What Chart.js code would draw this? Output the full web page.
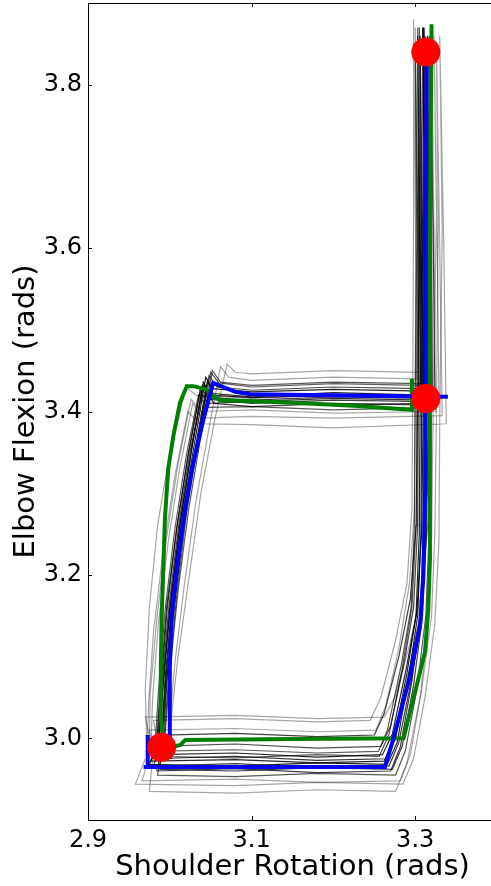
<!DOCTYPE html>
<html lang="en">
<head>
  <meta charset="UTF-8" />
  <title>Elbow Flexion vs Shoulder Rotation</title>
  <script src="https://cdn.jsdelivr.net/npm/chart.js"></script>
  <style>
    html, body {
      margin: 0;
      padding: 0;
      background: #fff;
      overflow: hidden;
    }
    #wrap {
      width: 500px;
      height: 886px;
    }
  </style>
</head>
<body>
  <div id="wrap"><canvas id="grafico" width="500" height="886"></canvas></div>

  <script>
    // axis limits and ticks
    const xLimits = [2.9, 3.4];
    const yLimits = [2.9, 3.9];
    const xTicks = [2.9, 3.1, 3.3];
    const xTickLabels = ['2.9', '3.1', '3.3'];
    const yTicks = [3.0, 3.2, 3.4, 3.6, 3.8];
    const yTickLabels = ['3.0', '3.2', '3.4', '3.6', '3.8'];

    // key postures (red dots)
    const keyX = [2.990, 3.313, 3.313];
    const keyY = [2.989, 3.416, 3.840];

    // mean trajectory (blue), null = break
    const blueX = [3.340, 3.098, 3.080, 3.053, 3.041, 3.027, 3.017, 3.0085, 3.002, 3.000, 3.000, 3.000, null,
                   2.973, 2.973, null,
                   2.968, 3.263, 3.2735, 3.294, 3.306, 3.310, 3.312, 3.312, 3.313, 3.314];
    const blueY = [3.418, 3.421, 3.424, 3.435, 3.390, 3.329, 3.268, 3.207, 3.146, 3.085, 3.004, 2.975, null,
                   3.004, 2.965, null,
                   2.965, 2.965, 3.000, 3.077, 3.138, 3.199, 3.300, 3.420, 3.600, 3.840];

    // model trajectory (green)
    const greenX = [3.296, 3.296, 3.225, 3.143, 3.061, 3.049, 3.045, 3.029, 3.0207, 3.0125, 3.0043, 2.998,
                    2.994, 2.992, 2.990, 2.989, 2.989, 2.992, 3.005, 3.013, 3.019, 3.150, 3.2857, 3.298,
                    3.312, 3.316, 3.318, 3.318, 3.318, 3.320];
    const greenY = [3.440, 3.402, 3.407, 3.411, 3.414, 3.421, 3.427, 3.431, 3.431, 3.411, 3.370, 3.329,
                    3.268, 3.207, 3.146, 3.085, 3.024, 3.000, 2.990, 2.992, 2.998, 2.999, 3.000, 3.049,
                    3.106, 3.158, 3.220, 3.420, 3.600, 3.874];

    // individual trials (grey), [x, y] pairs
    const trials = [
      [[2.986,2.99],[2.976,2.972],[3.08,2.974],[3.18,2.970],[3.262,2.972],[3.274,3.0],[3.290,3.08],[3.301,3.15],[3.305,3.25],[3.306,3.40],[3.308,3.60],[3.306,3.86],[3.309,3.62],[3.310,3.425],[3.20,3.427],[3.10,3.424],[3.052,3.428],[3.044,3.442],[3.030,3.36],[3.015,3.27],[3.003,3.17],[2.994,3.07],[2.990,3.0]],
      [[2.990,2.985],[2.984,2.960],[3.08,2.963],[3.18,2.958],[3.270,2.960],[3.282,2.99],[3.296,3.07],[3.306,3.15],[3.310,3.25],[3.311,3.41],[3.313,3.63],[3.311,3.87],[3.315,3.61],[3.317,3.412],[3.20,3.414],[3.10,3.410],[3.048,3.415],[3.038,3.430],[3.023,3.35],[3.009,3.26],[2.997,3.16],[2.989,3.06],[2.985,3.0]],
      [[2.982,2.99],[2.972,2.984],[3.08,2.986],[3.18,2.982],[3.255,2.984],[3.266,3.01],[3.283,3.09],[3.295,3.16],[3.299,3.26],[3.300,3.42],[3.302,3.61],[3.300,3.85],[3.303,3.63],[3.305,3.432],[3.20,3.434],[3.10,3.430],[3.060,3.435],[3.050,3.448],[3.036,3.37],[3.021,3.28],[3.009,3.18],[2.999,3.08],[2.993,3.0]],
      [[2.976,2.98],[2.966,2.948],[3.08,2.950],[3.18,2.946],[3.282,2.948],[3.294,2.98],[3.308,3.06],[3.320,3.15],[3.324,3.25],[3.326,3.40],[3.328,3.63],[3.326,3.85],[3.330,3.60],[3.333,3.395],[3.20,3.392],[3.10,3.394],[3.040,3.392],[3.028,3.41],[3.012,3.33],[2.998,3.24],[2.986,3.14],[2.979,3.05],[2.977,2.99]],
      [[2.990,2.99],[2.992,3.004],[3.08,3.006],[3.18,3.002],[3.250,3.004],[3.262,3.03],[3.280,3.10],[3.294,3.17],[3.301,3.26],[3.303,3.41],[3.305,3.60],[3.303,3.86],[3.306,3.61],[3.308,3.408],[3.20,3.410],[3.10,3.406],[3.054,3.410],[3.045,3.424],[3.031,3.35],[3.017,3.26],[3.005,3.16],[2.996,3.07],[2.991,3.0]],
      [[2.985,2.995],[2.980,3.022],[3.08,3.024],[3.18,3.020],[3.245,3.022],[3.258,3.05],[3.276,3.12],[3.290,3.19],[3.296,3.28],[3.297,3.43],[3.298,3.64],[3.298,3.88],[3.300,3.65],[3.302,3.440],[3.20,3.442],[3.10,3.438],[3.072,3.442],[3.062,3.455],[3.048,3.38],[3.032,3.29],[3.018,3.19],[3.006,3.09],[2.998,3.0]],
      [[2.982,2.985],[2.975,2.968],[3.08,2.966],[3.18,2.970],[3.266,2.968],[3.278,2.995],[3.292,3.075],[3.303,3.15],[3.307,3.25],[3.308,3.415],[3.310,3.62],[3.309,3.87],[3.313,3.64],[3.315,3.418],[3.20,3.420],[3.10,3.417],[3.050,3.420],[3.041,3.436],[3.027,3.355],[3.013,3.265],[3.001,3.165],[2.992,3.065],[2.987,2.995]],
      [[2.990,2.98],[2.985,2.955],[3.08,2.953],[3.18,2.957],[3.276,2.955],[3.288,2.985],[3.302,3.06],[3.313,3.15],[3.317,3.25],[3.318,3.405],[3.320,3.61],[3.318,3.85],[3.322,3.62],[3.324,3.405],[3.20,3.402],[3.10,3.406],[3.046,3.405],[3.035,3.420],[3.020,3.345],[3.006,3.255],[2.994,3.155],[2.986,3.055],[2.982,2.99]],
      [[2.970,2.975],[2.958,2.944],[3.08,2.942],[3.18,2.946],[3.285,2.944],[3.298,2.975],[3.312,3.05],[3.324,3.14],[3.329,3.24],[3.330,3.39],[3.333,3.62],[3.330,3.86],[3.335,3.60],[3.338,3.385],[3.20,3.380],[3.10,3.384],[3.036,3.385],[3.022,3.40],[3.006,3.32],[2.992,3.23],[2.980,3.13],[2.974,3.04],[2.972,2.985]],
      [[2.985,2.99],[2.980,2.990],[3.08,2.993],[3.18,2.988],[3.258,2.990],[3.270,3.015],[3.286,3.09],[3.298,3.16],[3.303,3.26],[3.304,3.425],[3.306,3.60],[3.305,3.87],[3.307,3.62],[3.309,3.428],[3.20,3.430],[3.10,3.426],[3.058,3.430],[3.048,3.444],[3.034,3.365],[3.019,3.275],[3.007,3.175],[2.997,3.075],[2.992,3.0]],
      [[2.985,2.985],[2.978,2.975],[3.08,2.978],[3.18,2.973],[3.264,2.975],[3.276,3.0],[3.292,3.08],[3.306,3.15],[3.312,3.25],[3.314,3.40],[3.316,3.63],[3.315,3.86],[3.317,3.62],[3.320,3.414],[3.20,3.416],[3.10,3.412],[3.049,3.418],[3.040,3.432],[3.026,3.35],[3.012,3.26],[3.000,3.16],[2.991,3.06],[2.986,2.995]],
      [[2.980,2.99],[2.975,3.010],[3.08,3.012],[3.18,3.008],[3.252,3.010],[3.264,3.04],[3.280,3.11],[3.293,3.19],[3.299,3.28],[3.300,3.43],[3.301,3.62],[3.300,3.87],[3.303,3.63],[3.304,3.448],[3.20,3.450],[3.10,3.446],[3.080,3.448],[3.070,3.458],[3.055,3.39],[3.038,3.30],[3.024,3.20],[3.010,3.10],[2.999,3.0]],
      [[2.990,2.99],[2.988,2.962],[3.08,2.960],[3.18,2.964],[3.272,2.962],[3.284,2.99],[3.298,3.065],[3.309,3.15],[3.312,3.25],[3.313,3.41],[3.314,3.61],[3.312,3.86],[3.316,3.60],[3.318,3.410],[3.20,3.408],[3.10,3.412],[3.047,3.410],[3.037,3.425],[3.022,3.345],[3.008,3.255],[2.996,3.16],[2.988,3.06],[2.984,2.995]],
      [[2.980,2.985],[2.975,2.935],[3.08,2.933],[3.18,2.937],[3.276,2.935],[3.290,2.97],[3.306,3.05],[3.316,3.14],[3.320,3.24],[3.322,3.41],[3.326,3.64],[3.323,3.86],[3.327,3.60],[3.329,3.418],[3.20,3.420],[3.10,3.416],[3.032,3.420],[3.020,3.43],[3.000,3.35],[2.985,3.26],[2.975,3.16],[2.970,3.06],[2.972,2.99]],
      [[2.988,2.99],[2.982,2.980],[3.08,2.982],[3.18,2.977],[3.260,2.980],[3.272,3.005],[3.289,3.085],[3.302,3.155],[3.308,3.255],[3.310,3.42],[3.311,3.62],[3.310,3.87],[3.312,3.61],[3.314,3.420],[3.20,3.423],[3.10,3.418],[3.053,3.422],[3.046,3.438],[3.032,3.36],[3.017,3.27],[3.004,3.17],[2.995,3.07],[2.990,3.0]],
      [[2.986,2.985],[2.980,2.966],[3.08,2.969],[3.18,2.964],[3.268,2.966],[3.280,2.995],[3.295,3.07],[3.308,3.15],[3.314,3.25],[3.316,3.41],[3.318,3.62],[3.317,3.86],[3.319,3.63],[3.321,3.416],[3.20,3.418],[3.10,3.414],[3.050,3.416],[3.042,3.433],[3.025,3.352],[3.011,3.262],[2.999,3.162],[2.990,3.062],[2.986,2.995]],
      [[2.978,2.99],[2.970,3.026],[3.08,3.028],[3.18,3.024],[3.262,3.026],[3.275,3.05],[3.292,3.11],[3.308,3.18],[3.316,3.27],[3.320,3.40],[3.322,3.61],[3.320,3.87],[3.323,3.62],[3.325,3.400],[3.20,3.398],[3.10,3.402],[3.038,3.400],[3.026,3.415],[3.010,3.335],[2.996,3.245],[2.984,3.145],[2.976,3.055],[2.975,2.99]],
      [[2.984,2.99],[2.978,2.978],[3.08,2.976],[3.18,2.980],[3.256,2.978],[3.268,3.005],[3.284,3.085],[3.296,3.16],[3.301,3.26],[3.302,3.43],[3.304,3.62],[3.303,3.87],[3.305,3.63],[3.307,3.434],[3.20,3.436],[3.10,3.432],[3.062,3.436],[3.052,3.450],[3.038,3.37],[3.023,3.28],[3.010,3.18],[3.000,3.08],[2.994,3.0]]
    ];
    const trialAlpha = [0.85, 0.75, 0.65, 0.35, 0.75, 0.35, 0.85, 0.65, 0.35, 0.7, 0.8, 0.35, 0.75, 0.35, 0.85, 0.75, 0.35, 0.65];

    const toPoints = (xs, ys) => xs.map((x, i) => (x === null ? { x: null, y: null } : { x: x, y: ys[i] }));

    const datasets = [];
    datasets.push({
      data: toPoints(keyX, keyY),
      showLine: false,
      pointRadius: 14.5,
      pointBackgroundColor: '#ff0000',
      pointBorderWidth: 0,
      order: 0
    });
    datasets.push({
      data: toPoints(blueX, blueY),
      showLine: true,
      spanGaps: false,
      borderColor: '#0000ff',
      borderWidth: 4,
      pointRadius: 0,
      order: 1
    });
    datasets.push({
      data: toPoints(greenX, greenY),
      showLine: true,
      borderColor: '#008000',
      borderWidth: 4,
      pointRadius: 0,
      order: 2
    });
    trials.forEach((t, i) => {
      datasets.push({
        data: t.map(p => ({ x: p[0], y: p[1] })),
        showLine: true,
        borderColor: 'rgba(0,0,0,' + trialAlpha[i] + ')',
        borderWidth: 1.2,
        pointRadius: 0,
        order: 3
      });
    });

    // matplotlib style frame with inward ticks
    const frame = {
      id: 'frame',
      afterDraw(chart) {
        const { ctx, chartArea: a, scales } = chart;
        ctx.save();
        ctx.strokeStyle = '#000';
        ctx.lineWidth = 1;
        ctx.strokeRect(a.left + 0.5, a.top + 0.5, a.right - a.left, a.bottom - a.top);
        ctx.beginPath();
        xTicks.forEach(v => {
          const px = Math.round(scales.x.getPixelForValue(v)) + 0.5;
          ctx.moveTo(px, a.bottom); ctx.lineTo(px, a.bottom - 4);
          ctx.moveTo(px, a.top); ctx.lineTo(px, a.top + 4);
        });
        yTicks.forEach(v => {
          const py = Math.round(scales.y.getPixelForValue(v)) + 0.5;
          ctx.moveTo(a.left, py); ctx.lineTo(a.left + 4, py);
          ctx.moveTo(a.right, py); ctx.lineTo(a.right - 4, py);
        });
        ctx.stroke();
        ctx.restore();
      }
    };

    const noPad = s => { s.paddingTop = 0; s.paddingBottom = 0; s.paddingLeft = 0; s.paddingRight = 0; };

    new Chart(document.getElementById('grafico').getContext('2d'), {
      type: 'scatter',
      data: { datasets: datasets },
      plugins: [frame],
      options: {
        responsive: false,
        animation: false,
        layout: { autoPadding: false, padding: { top: 3, right: 3, left: 0, bottom: 0 } },
        plugins: { legend: { display: false }, tooltip: { enabled: false } },
        scales: {
          x: {
            min: xLimits[0],
            max: xLimits[1],
            grid: { display: false, drawTicks: false },
            border: { display: false },
            afterBuildTicks: s => { s.ticks = xTicks.map(v => ({ value: v })); },
            afterFit: s => { s.height = 66; noPad(s); },
            ticks: {
              padding: 6,
              color: '#000',
              maxRotation: 0,
              font: { family: 'DejaVu Sans', size: 24 },
              callback: v => xTickLabels[xTicks.indexOf(v)]
            },
            title: {
              display: true,
              text: 'Shoulder Rotation (rads)',
              color: '#000',
              font: { family: 'DejaVu Sans', size: 29 },
              padding: { top: 0, bottom: 1 }
            }
          },
          y: {
            min: yLimits[0],
            max: yLimits[1],
            grid: { display: false, drawTicks: false },
            border: { display: false },
            afterBuildTicks: s => { s.ticks = yTicks.map(v => ({ value: v })); },
            afterFit: s => { s.width = 88; noPad(s); },
            ticks: {
              padding: 6,
              color: '#000',
              font: { family: 'DejaVu Sans', size: 24 },
              callback: v => yTickLabels[yTicks.indexOf(v)]
            },
            title: {
              display: true,
              text: 'Elbow Flexion (rads)',
              color: '#000',
              font: { family: 'DejaVu Sans', size: 29 },
              padding: { top: 9, bottom: 0 }
            }
          }
        }
      }
    });
  </script>
</body>
</html>
